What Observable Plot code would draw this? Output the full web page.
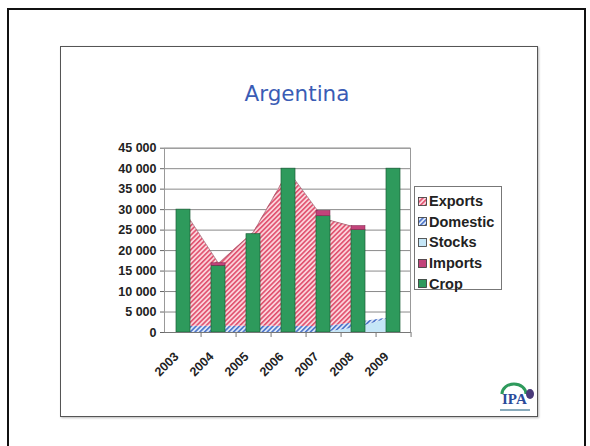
<!DOCTYPE html>
<html><head><meta charset="utf-8">
<script src="https://cdn.jsdelivr.net/npm/d3@7"></script>
<script src="https://cdn.jsdelivr.net/npm/@observablehq/plot@0.6"></script>
<style>
html,body{margin:0;padding:0;background:#fff;}
#page{position:relative;width:590px;height:446px;overflow:hidden;background:#fff;font-family:"Liberation Sans",Arial,sans-serif;}
#slide{position:absolute;left:7px;top:8px;width:575px;height:480px;border:2px solid #111;}
#frame{position:absolute;left:60px;top:46px;width:476px;height:369px;border:1.5px solid #555;box-shadow:1px 1px 2px #bbb;}
#title{position:absolute;left:0;width:594px;top:83px;text-align:center;font-family:"DejaVu Sans",sans-serif;font-size:21.5px;line-height:21px;color:#3a5cb5;}
#chart{position:absolute;left:100px;top:140px;}
#legend{position:absolute;left:414px;top:186px;width:86px;height:102px;border:1px solid #777;background:#fff;}
.item{position:absolute;left:3px;height:20px;display:flex;align-items:center;font-weight:bold;font-size:14.5px;color:#222;white-space:nowrap;}
#logo{position:absolute;left:494px;top:380px;}
</style>
</head><body>
<div id="page">
  <svg width="0" height="0" style="position:absolute">
    <defs>
      <pattern id="hatchPink" patternUnits="userSpaceOnUse" width="3.4" height="3.4" patternTransform="rotate(45)">
        <rect width="3.4" height="3.4" fill="#fbd3db"/>
        <rect width="1.6" height="3.4" fill="#e0506e"/>
      </pattern>
      <pattern id="hatchBlue" patternUnits="userSpaceOnUse" width="3.4" height="3.4" patternTransform="rotate(45)">
        <rect width="3.4" height="3.4" fill="#dce8f8"/>
        <rect width="1.6" height="3.4" fill="#4a73c9"/>
      </pattern>
    </defs>
  </svg>
  <div id="slide"></div>
  <div id="frame"></div>
  <div id="title">Argentina</div>
  <div id="chart"></div>
  <div id="legend"></div>
  <svg id="logo" width="44" height="36">
    <path d="M8 14 A12 10 0 0 1 32 14" fill="none" stroke="#2e9a5c" stroke-width="3"/>
    <text x="8" y="24" font-family="Liberation Serif,serif" font-size="15" font-weight="bold" fill="#2a4a9a">IPA</text>
    <ellipse cx="36" cy="14" rx="4" ry="5" fill="#4a3a7a"/>
    <rect x="6" y="29" width="30" height="2" fill="#8ab"/>
  </svg>
</div>
<script>
// ---- data ----
const years = ["2003", "2004", "2005", "2006", "2007", "2008", "2009"];
const crop = [30000, 16300, 24000, 40000, 28400, 25000, 40000];
const imports = [0, 600, 0, 0, 1300, 1000, 0];
const exportsV = [28500, 15400, 23000, 37900, 26400, 23000, null];
const domestic = [1500, 1500, 1500, 1500, 1400, 1300, 0];
const stocks = [0, 0, 0, 0, 0, 1200, 3700];
const yTicks = [0, 5000, 10000, 15000, 20000, 25000, 30000, 35000, 40000, 45000];
const seriesNames = ["Exports", "Domestic", "Stocks", "Imports", "Crop"];
const fills = {
  Exports: "url(#hatchPink)",
  Domestic: "url(#hatchBlue)",
  Stocks: "#c5e6f7",
  Imports: "#c2437a",
  Crop: "#2e9a5c"
};

// ---- tables ----
const rows = years.map((y, i) => ({
  year: y,
  crop: crop[i],
  imports: imports[i],
  stocks: stocks[i],
  domestic: domestic[i],
  exports: exportsV[i]
}));

const fmt = d => d3.format(",")(d).replace(/,/g, " ");

const W = 320, H = 245, mL = 64, mR = 10, mT = 7.7, mB = 53;
const step = (W - mL - mR) / years.length;

const chart = Plot.plot({
  width: W, height: H,
  marginLeft: mL, marginRight: mR, marginTop: mT, marginBottom: mB,
  style: {fontFamily: "Liberation Sans, Arial, sans-serif", fontWeight: "bold", color: "#222", background: "transparent"},
  x: {type: "band", domain: years, paddingInner: 0.6, paddingOuter: 0.3, align: 0.55, label: null},
  y: {domain: [0, 45000], label: null},
  marks: [
    Plot.gridY(yTicks, {stroke: "#8a8a8a", strokeOpacity: 1, strokeWidth: 1}),
    Plot.frame({stroke: "#999"}),
    Plot.areaY(rows, {x: "year", y1: 0, y2: d => d.stocks, fill: fills.Stocks}),
    Plot.areaY(rows, {x: "year", y1: d => d.stocks, y2: d => d.stocks + d.domestic, fill: fills.Domestic}),
    Plot.areaY(rows, {x: "year", y1: d => d.stocks + d.domestic, y2: d => d.exports == null ? null : d.stocks + d.domestic + d.exports, fill: fills.Exports}),
    Plot.lineY(rows, {x: "year", y: d => d.exports == null ? null : d.stocks + d.domestic + d.exports, stroke: "#9a6070", strokeWidth: 0.7}),
    Plot.barY(rows, {x: "year", y1: 0, y2: "crop", fill: fills.Crop, stroke: "#1b5e38", strokeWidth: 0.7}),
    Plot.barY(rows.filter(d => d.imports > 0), {x: "year", y1: "crop", y2: d => d.crop + d.imports, fill: fills.Imports, stroke: "#7a2048", strokeWidth: 0.5}),
    Plot.ruleY([0], {stroke: "#777"}),
    Plot.ruleX(years, {x: d => d, y1: 0, y2: 0, insetBottom: -5, dx: step / 2, stroke: "#777"}),
    Plot.axisY({ticks: yTicks, tickFormat: fmt, tickSize: 4, tickPadding: 4, fontSize: 12.5, fontWeight: "bold", stroke: "#666"}),
    Plot.axisX({tickSize: 0, tickRotate: -45, tickPadding: 22, fontSize: 12.5, fontWeight: "bold", dx: -7})
  ]
});
document.getElementById("chart").appendChild(chart);

// ---- legend ----
const leg = document.getElementById("legend");
seriesNames.forEach((s, i) => {
  const it = document.createElement("div");
  it.className = "item";
  it.style.top = (4 + i * 20.7) + "px";
  const sw = document.createElementNS("http://www.w3.org/2000/svg", "svg");
  sw.setAttribute("width", 9); sw.setAttribute("height", 9);
  sw.style.marginRight = "2px";
  sw.innerHTML = `<rect x="0.5" y="0.5" width="8" height="8" fill="${fills[s]}" stroke="#333" stroke-width="0.8"/>`;
  it.appendChild(sw);
  const t = document.createElement("span");
  t.textContent = s;
  it.appendChild(t);
  leg.appendChild(it);
});
</script>
</body></html>
